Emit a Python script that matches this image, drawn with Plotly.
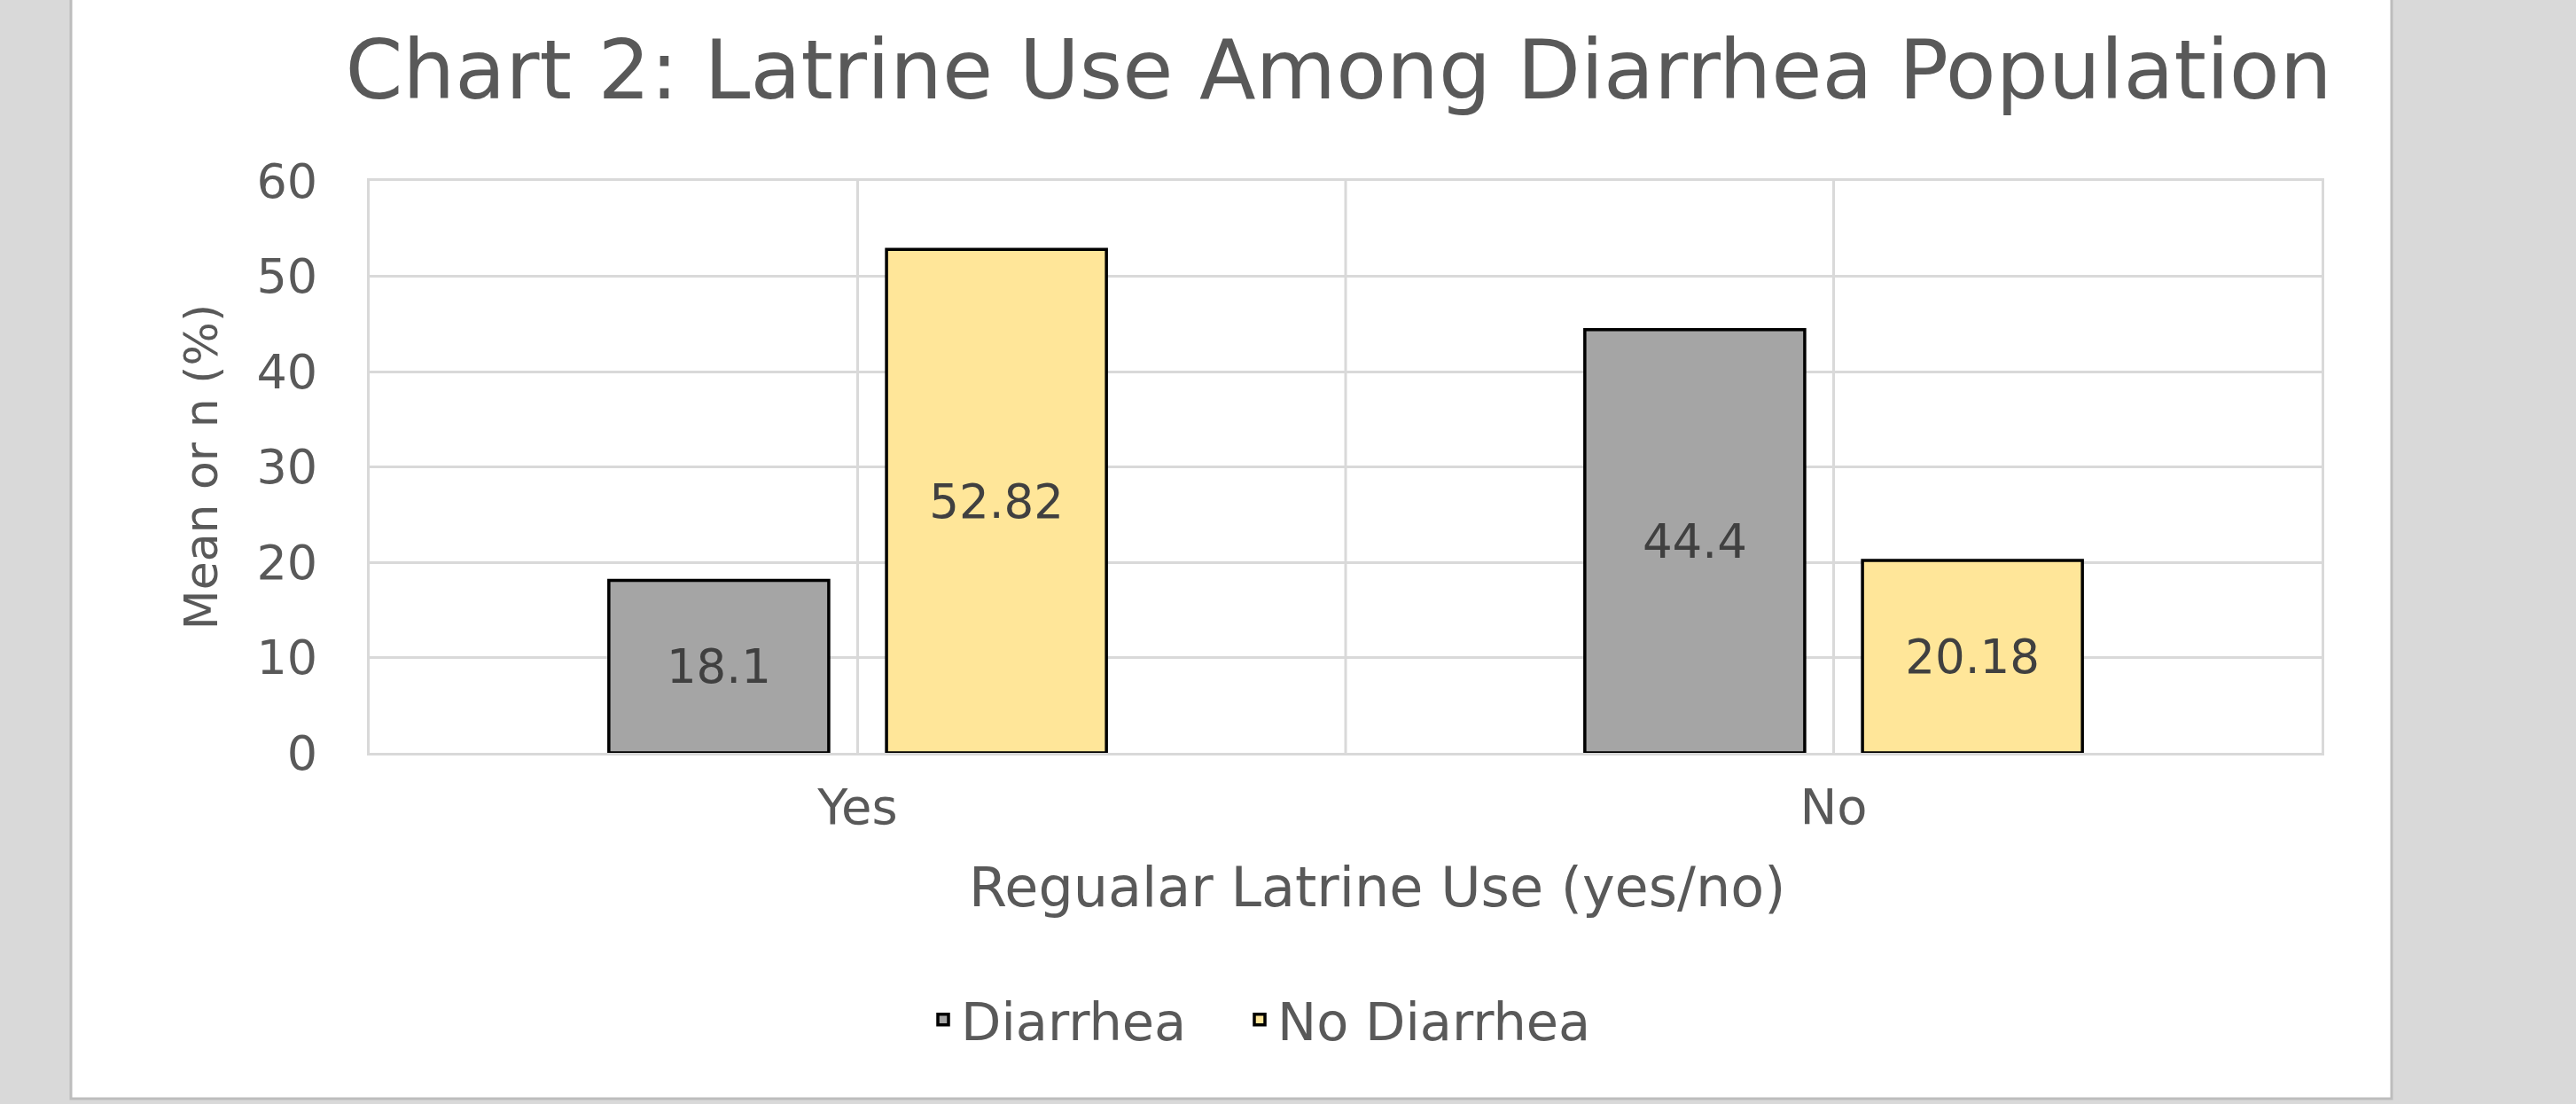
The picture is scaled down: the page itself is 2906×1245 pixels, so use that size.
import plotly.graph_objects as go

categories = ["Yes", "No"]
diarrhea = [18.1, 44.4]
no_diarrhea = [52.82, 20.18]
series_names = ["Diarrhea", "No Diarrhea"]
y_ticks = [0, 10, 20, 30, 40, 50, 60]

W, H = 2906, 1245
L, R, T, B = 417, 2619, 204, 849  # plot area pixel box
FONT = "DejaVu Sans"
TXT = "#595959"
GRID = "#D9D9D9"


def px(x):
    return (x - L) / (R - L)


def py(y):
    return (B - y) / (B - T)


fig = go.Figure()
fig.add_trace(go.Bar(
    x=categories, y=diarrhea, name=series_names[0], legend="legend",
    marker=dict(color="#A5A5A5", line=dict(color="#000000", width=3.5)),
    text=[str(v) for v in diarrhea], textposition="inside",
    insidetextanchor="middle", constraintext="none",
    textfont=dict(family=FONT, size=53, color="#404040"),
))
fig.add_trace(go.Bar(
    x=categories, y=no_diarrhea, name=series_names[1], legend="legend2",
    marker=dict(color="#FFE699", line=dict(color="#000000", width=3.5)),
    text=[str(v) for v in no_diarrhea], textposition="inside",
    insidetextanchor="middle", constraintext="none",
    textfont=dict(family=FONT, size=53, color="#404040"),
))

legend_style = dict(
    orientation="h", xanchor="left", yanchor="middle",
    y=py(1150),
    font=dict(family=FONT, size=59, color=TXT),
    bgcolor="rgba(0,0,0,0)", itemwidth=30,
)

fig.update_layout(
    width=W, height=H,
    margin=dict(l=L, r=W - R, t=T, b=H - B, pad=0),
    paper_bgcolor="#D9D9D9",
    plot_bgcolor="#FFFFFF",
    barmode="group",
    bargap=0.431,
    bargroupgap=0.208,
    font=dict(family=FONT, color=TXT, size=54),
    title=dict(
        text="Chart 2: Latrine Use Among Diarrhea Population",
        font=dict(family=FONT, size=93, color=TXT),
        x=px(1510), xref="paper", xanchor="center",
        y=1 - 78 / H, yref="container", yanchor="middle",
    ),
    showlegend=True,
    legend=dict(legend_style, x=px(1044)),
    legend2=dict(legend_style, x=px(1401)),
    xaxis=dict(
        type="category",
        showgrid=True, gridcolor=GRID, gridwidth=3,
        showline=True, mirror=True, linecolor=GRID, linewidth=3,
        ticks="", tickfont=dict(family=FONT, size=56, color=TXT),
        ticklabelstandoff=10,
    ),
    yaxis=dict(
        range=[0, 60], tickvals=y_ticks,
        showgrid=True, gridcolor=GRID, gridwidth=3,
        zeroline=False,
        showline=True, mirror=True, linecolor=GRID, linewidth=3,
        ticks="", tickfont=dict(family=FONT, size=54, color=TXT),
        ticklabelstandoff=45,
        title=dict(text="Mean or n (%)",
                   font=dict(family=FONT, size=52, color=TXT), standoff=28),
    ),
    annotations=[
        dict(text="Regualar Latrine Use (yes/no)", xref="paper", yref="paper",
             x=px(1553), y=py(1000), xanchor="center", yanchor="middle",
             showarrow=False, font=dict(family=FONT, size=62, color=TXT)),
    ],
    shapes=[
        dict(type="rect", xref="paper", yref="paper",
             x0=px(80), x1=px(2698), y0=py(1239), y1=py(-20),
             fillcolor="#FFFFFF", line=dict(color="#BDBDBD", width=3),
             layer="below"),
        dict(type="line", xref="x", yref="paper",
             x0=0.5, x1=0.5, y0=0, y1=1,
             line=dict(color=GRID, width=3), layer="below"),
    ],
)

fig.write_html("out.html")
